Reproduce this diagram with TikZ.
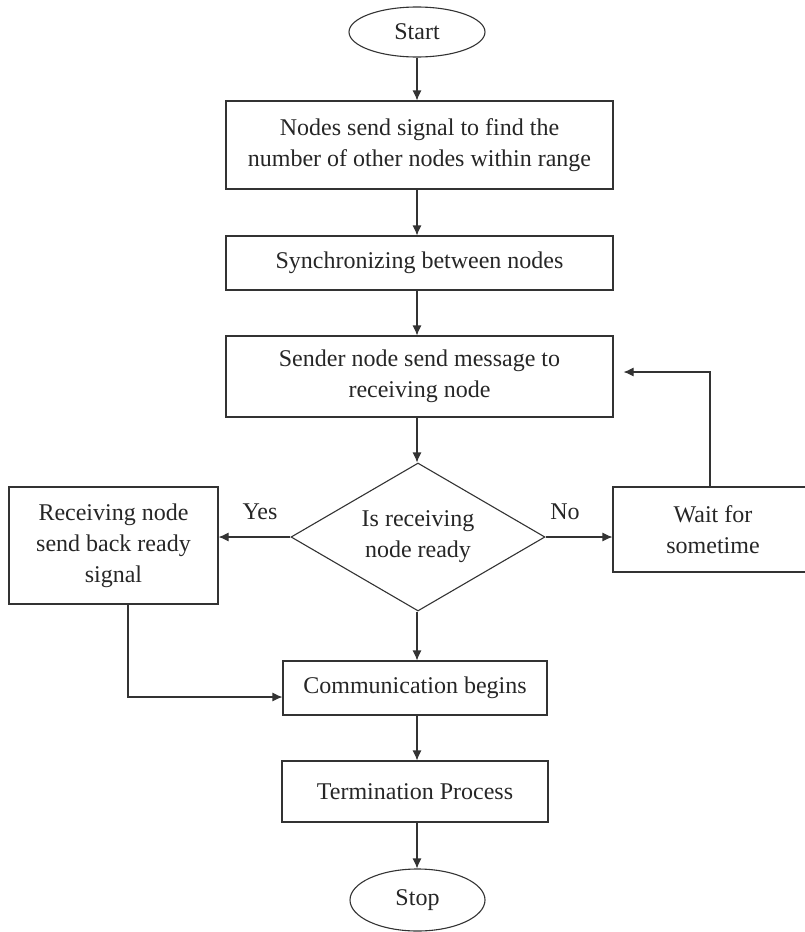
\documentclass[tikz,border=0pt]{standalone}
\usepackage{fontspec}
\setmainfont{Liberation Serif}
\usetikzlibrary{shapes.geometric,arrows.meta}

\begin{document}
\begin{tikzpicture}[x=1pt,y=-1pt,
  every node/.style={font=\fontsize{24}{31}\selectfont, text=black!85},
  procbox/.style={draw=black!80, line width=1.1pt, align=center, inner sep=0pt},
  ovalbox/.style={draw=black!80, line width=1.1pt, ellipse, inner sep=0pt},
  decbox/.style={draw=black!80, line width=1.1pt, diamond, aspect=1.7, align=center, inner sep=0pt},
  arr/.style={draw=black!80, line width=1.1pt, -{Latex[length=10pt,width=9pt]}}] % tikzpicture環境開始
\useasboundingbox (0,0) rectangle (804,932);
\node[ovalbox, minimum width=136pt, minimum height=50pt] (start) at (417,32) {Start};
\node[procbox, minimum width=387pt, minimum height=88pt] (find) at (419.5,145) {Nodes send signal to find the\\number of other nodes within range};
\node[procbox, minimum width=387pt, minimum height=54pt] (sync) at (419.5,263) {Synchronizing between nodes};
\node[procbox, minimum width=387pt, minimum height=81pt] (send) at (419.5,376.5) {Sender node send message to\\receiving node};
\node[decbox, minimum width=254pt, minimum height=148pt] (ready) at (418,537) {Is receiving\\node ready};
\node[procbox, minimum width=209pt, minimum height=117pt] (back) at (113.5,545.5) {Receiving node\\send back ready\\signal};
\node[procbox, minimum width=200pt, minimum height=85pt] (wait) at (713,529.5) {Wait for\\sometime};
\node[procbox, minimum width=264pt, minimum height=54pt] (comm) at (415,688) {Communication begins};
\node[procbox, minimum width=266pt, minimum height=61pt] (termp) at (415,791.5) {Termination Process};
\node[ovalbox, minimum width=135pt, minimum height=62pt] (stop) at (417.5,900) {Stop};
\node (yes) at (260,512) {Yes};
\node (no) at (565,512) {No};
% 縦の矢印
\foreach \a/\b in%
{%
	start/find,find/sync,sync/send,send/ready,ready/comm,comm/termp,termp/stop%
}{%
	\path[arr] (\a.south -| start.center) -- (\b.north -| start.center);
}%
\path[arr] (ready.west) -- (ready.west -| back.east);
\path[arr] (ready.east) -- (ready.east -| wait.west);
\path[arr, shorten >=10pt] ([xshift=-3pt]wait.north) |- ([yshift=4.5pt]send.east);
\path[arr] ([xshift=14.5pt]back.south) |- ([yshift=-9pt]comm.west);
\end{tikzpicture}
\end{document}
